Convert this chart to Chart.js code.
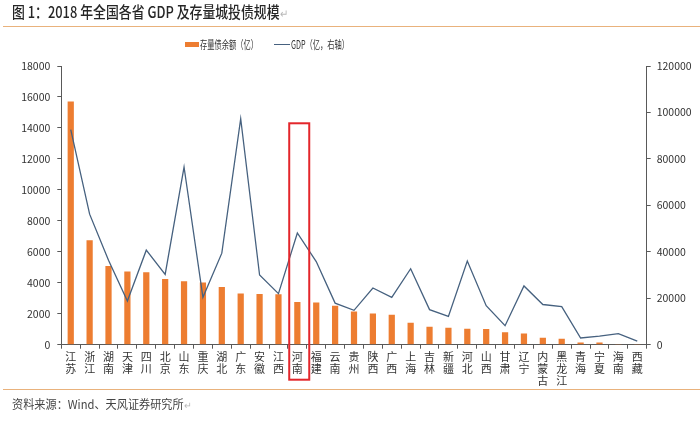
<!DOCTYPE html>
<html>
<head>
<meta charset="utf-8">
<script src="https://cdn.jsdelivr.net/npm/chart.js@4.4.1/dist/chart.umd.min.js"></script>
<style>
  body { margin: 0; background: #fff; }
  #wrap { position: relative; width: 700px; height: 422px; overflow: hidden; font-family: "Noto Sans CJK SC", sans-serif; }
  #box { position: absolute; left: 0; top: 0; width: 700px; height: 422px; }
  .t { position: absolute; white-space: nowrap; transform-origin: 0 0; }
  .rule { position: absolute; left: 3px; width: 697px; height: 0; border-top: 1.5px solid #E9B27C; }
  .ret { color: #b8b8b8; font-size: 0.8em; }
</style>
</head>
<body>
<div id="wrap">
  <div id="box"><canvas id="bond-chart"></canvas></div>

  <div class="t" style="left:12px; top:3px; font-size:15.5px; line-height:17px; color:#262626; font-weight:500; transform:scaleX(0.83);">图 1：2018 年全国各省 GDP 及存量城投债规模<span class="ret">↵</span></div>
  <div class="rule" style="top:26px;"></div>

  <!-- legend -->
  <div style="position:absolute; left:185px; top:42px; width:14px; height:5px; background:#ED7D31;"></div>
  <div class="t" style="left:200px; top:37px; font-size:11.5px; line-height:14px; color:#333; transform:scaleX(0.63);">存量债余额（亿）</div>
  <div style="position:absolute; left:274px; top:44px; width:16px; height:0; border-top:1.3px solid #46617F;"></div>
  <div class="t" style="left:291px; top:37px; font-size:11.5px; line-height:14px; color:#333; transform:scaleX(0.63);">GDP（亿，右轴）</div>

  <div class="rule" style="top:389px;"></div>
  <div class="t" style="left:12px; top:396px; font-size:12px; line-height:15px; color:#444; transform:scaleX(0.93);">资料来源：Wind、天风证券研究所<span class="ret">↵</span></div>
</div>

<script>
// 2018 provinces, ordered by outstanding city-investment bonds
const provinces = ["江苏", "浙江", "湖南", "天津", "四川", "北京", "山东", "重庆", "湖北", "广东", "安徽",
                   "江西", "河南", "福建", "云南", "贵州", "陕西", "广西", "上海", "吉林", "新疆", "河北",
                   "山西", "甘肃", "辽宁", "内蒙古", "黑龙江", "青海", "宁夏", "海南", "西藏"];

// 存量债余额（亿）
const debt = [15700, 6750, 5080, 4720, 4680, 4250, 4100, 4020, 3730, 3300, 3280,
              3260, 2760, 2720, 2520, 2150, 2020, 1940, 1420, 1160, 1100, 1030,
              1020, 800, 730, 450, 390, 150, 150, 40, 10];

// GDP（亿，右轴）
const gdp = [92600, 56200, 36400, 18800, 40700, 30300, 76500, 20400, 39400, 97300, 30000,
             22000, 48100, 35800, 17900, 14800, 24400, 20400, 32700, 15100, 12200, 36000,
             16800, 8200, 25300, 17300, 16400, 2900, 3700, 4800, 1500];

const leftMax = 18000, leftStep = 2000;
const rightMax = 120000, rightStep = 20000;
const highlighted = "河南";

const axisColor = "#595959";
const textColor = "#333";

// red frame around the highlighted province
const highlightBox = {
    id: "highlightBox",
    afterDraw(chart) {
        const { ctx, chartArea, scales: { x, y } } = chart;
        const i = provinces.indexOf(highlighted);
        const w = x.getPixelForValue(1) - x.getPixelForValue(0);
        const cx = x.getPixelForValue(i);
        const top = y.getPixelForValue(14300);
        ctx.save();
        ctx.strokeStyle = "#E3262B";
        ctx.lineWidth = 2;
        ctx.strokeRect(cx - 0.43 * w, top, 1.06 * w, chartArea.bottom + 35 - top);
        ctx.restore();
    }
};

new Chart(document.getElementById("bond-chart"), {
    type: "bar",
    data: {
        labels: provinces.map(p => p.split("")),
        datasets: [
            {
                type: "line",
                label: "GDP（亿，右轴）",
                data: gdp,
                yAxisID: "y1",
                borderColor: "#46617F",
                borderWidth: 1.3,
                pointRadius: 0,
                tension: 0,
                order: 0
            },
            {
                label: "存量债余额（亿）",
                data: debt,
                yAxisID: "y",
                backgroundColor: "#ED7D31",
                barPercentage: 0.33,
                categoryPercentage: 1,
                order: 1
            }
        ]
    },
    options: {
        responsive: true,
        maintainAspectRatio: false,
        animation: false,
        layout: { padding: { top: 66, left: 0, right: 0, bottom: 0 } },
        plugins: {
            legend: { display: false },
            tooltip: { enabled: false }
        },
        scales: {
            x: {
                offset: true,
                grid: { display: true, drawOnChartArea: false, offset: true, tickLength: 4, color: axisColor },
                border: { color: axisColor },
                ticks: {
                    autoSkip: false, maxRotation: 0, minRotation: 0, padding: 2, color: textColor,
                    font: { family: "Noto Sans CJK SC", size: 11, lineHeight: 1.1 }
                },
                afterFit: s => { s.height = 77.3; }
            },
            y: {
                position: "left",
                min: 0, max: leftMax,
                grid: { drawOnChartArea: false, tickLength: 4, color: axisColor },
                border: { color: axisColor },
                ticks: {
                    stepSize: leftStep, padding: 7, color: textColor,
                    font: { family: "Noto Sans CJK SC", size: 10.5 },
                    callback: v => String(v)
                },
                afterFit: s => { s.width = 61.3; }
            },
            y1: {
                position: "right",
                min: 0, max: rightMax,
                grid: { drawOnChartArea: false, tickLength: 4, color: axisColor },
                border: { color: axisColor },
                ticks: {
                    stepSize: rightStep, padding: 6, color: textColor,
                    font: { family: "Noto Sans CJK SC", size: 10.5 },
                    callback: v => String(v)
                },
                afterFit: s => { s.width = 53.3; }
            }
        }
    },
    plugins: [highlightBox]
});
</script>
</body>
</html>
